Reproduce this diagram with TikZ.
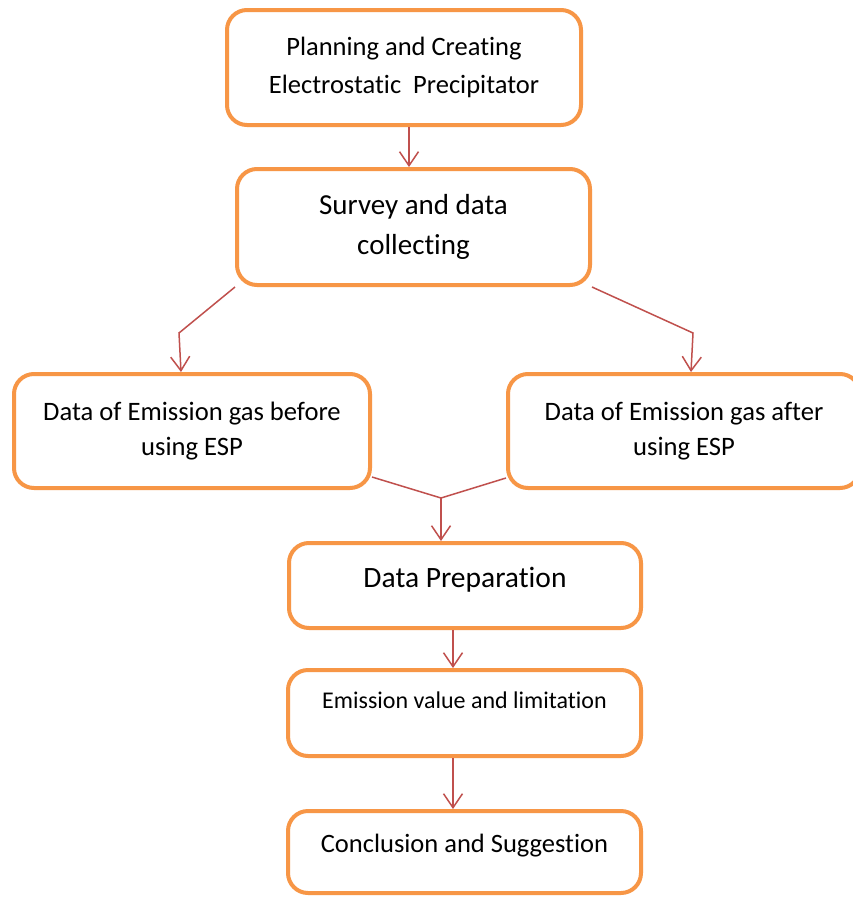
\documentclass[tikz,border=0pt]{standalone}
\usepackage{fontspec}
\setmainfont[Ligatures={NoCommon}]{Carlito}
\usetikzlibrary{arrows.meta}
\definecolor{boxorange}{HTML}{F79646}
\definecolor{arrred}{HTML}{C0504D}
\begin{document}
\begin{tikzpicture}[x=1pt,y=-1pt,
  box/.style={draw=boxorange, line width=4pt, rounded corners=20pt, fill=white, inner sep=0pt, align=center},
  arr/.style={draw=arrred, line width=1.5pt, -{Straight Barb[length=14pt,width=19pt,line width=1.5pt]}}]
\useasboundingbox (0,0) rectangle (853,897);
\fill[white] (0,0) rectangle (853,897);
\node[box, minimum width=354pt, minimum height=115pt, font=\fontsize{26.5}{38}\selectfont] (b1) at (404,67.5) {Planning and Creating\\Electrostatic\ \ Precipitator};
\node[box, minimum width=353pt, minimum height=116pt, font=\fontsize{29}{40}\selectfont] (b2) at (413.5,227) {Survey and data\\collecting};
\node[box, minimum width=356pt, minimum height=114pt, font=\fontsize{26.6}{35}\selectfont] (b3) at (192,431) {Data of Emission gas before\\using ESP};
\node[box, minimum width=352pt, minimum height=114pt, font=\fontsize{26.6}{35}\selectfont] (b4) at (684,431) {Data of Emission gas after\\using ESP};
\node[box, minimum width=352pt, minimum height=85pt] (b5) at (465,585.5) {};
\node[font=\fontsize{29.5}{36}\selectfont] (t5) at (465,579.5) {Data Preparation};
\node[box, minimum width=353pt, minimum height=86pt] (b6) at (464.5,713) {};
\node[font=\fontsize{24}{30}\selectfont] (t6) at (464.5,700) {Emission value and limitation};
\node[box, minimum width=353pt, minimum height=82pt] (b7) at (464.5,852) {};
\node[font=\fontsize{26.5}{32}\selectfont] (t7) at (464.5,846) {Conclusion and Suggestion};
\draw[arr] ([xshift=5pt]b1.south) -- ([xshift=-4.5pt]b2.north);
\draw[arr] (b2.south west) -- ++(-56,46) -- ([xshift=-11pt]b3.north);
\draw[arr] (b2.south east) -- ++(101,46) -- ([xshift=7pt]b4.north);
\coordinate (j) at (441,498);
\draw[draw=arrred, line width=1.5pt] ([yshift=13pt]b3.south east) -- (j) -- ([yshift=12pt]b4.south west);
\draw[arr] (j) -- ([xshift=-24pt]b5.north);
\draw[arr] ([xshift=-12pt]b5.south) -- ([xshift=-11.5pt]b6.north);
\draw[arr] ([xshift=-11.5pt]b6.south) -- ([xshift=-11.5pt]b7.north);
\end{tikzpicture}
\end{document}
